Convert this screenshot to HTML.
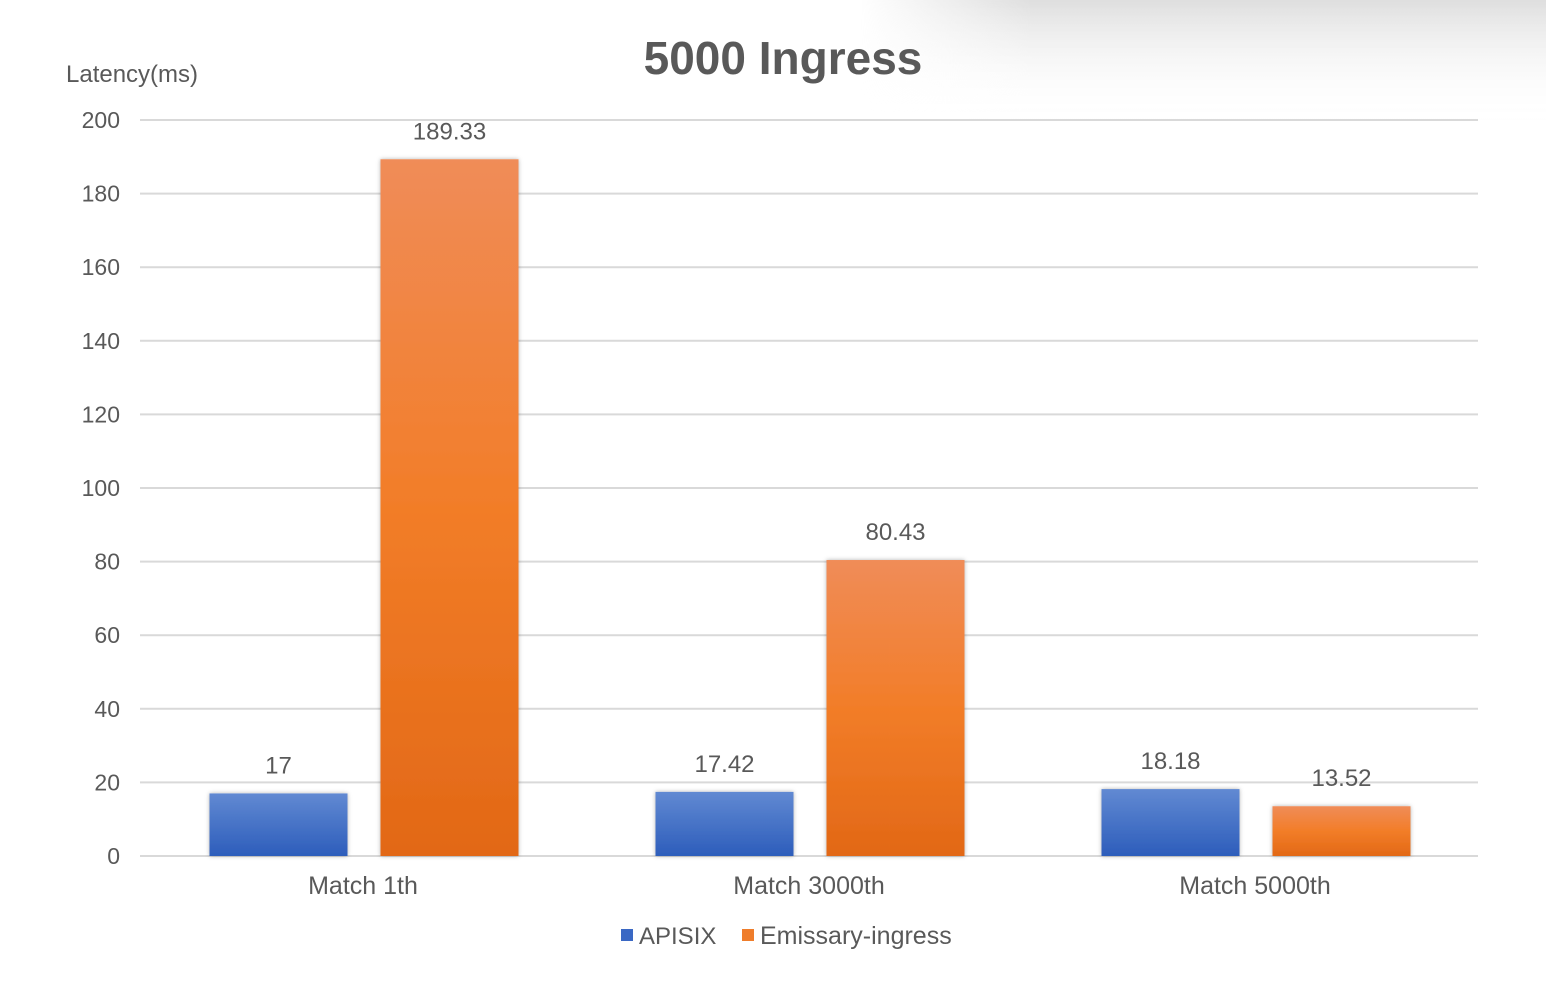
<!DOCTYPE html>
<html><head><meta charset="utf-8"><style>
html,body{margin:0;padding:0;background:#fff}
svg{display:block;font-family:"Liberation Sans","Noto Sans CJK SC",sans-serif}
</style></head><body>
<svg width="1546" height="985" viewBox="0 0 1546 985">
<defs>
<linearGradient id="vshade" x1="0" y1="0" x2="0" y2="1"><stop offset="0" stop-color="#dedede"/><stop offset="1" stop-color="#fff" stop-opacity="0"/></linearGradient>
<linearGradient id="hmask" x1="0" y1="0" x2="1" y2="0"><stop offset="0" stop-color="#000"/><stop offset="0.25" stop-color="#fff"/><stop offset="1" stop-color="#fff"/></linearGradient>
<mask id="m"><rect x="860" y="0" width="686" height="120" fill="url(#hmask)"/></mask>
<linearGradient id="gBlue" x1="0" y1="0" x2="0" y2="1"><stop offset="0" stop-color="#6189d2"/><stop offset="1" stop-color="#2d5dbb"/></linearGradient>
<linearGradient id="gOrange" x1="0" y1="0" x2="0" y2="1"><stop offset="0" stop-color="#f08c58"/><stop offset="0.5" stop-color="#f27d28"/><stop offset="1" stop-color="#e26816"/></linearGradient>
<filter id="sh" x="-10%" y="-10%" width="120%" height="120%"><feDropShadow dx="0" dy="0" stdDeviation="2" flood-color="#000" flood-opacity="0.3"/></filter>
</defs>
<rect x="860" y="0" width="686" height="120" fill="url(#vshade)" mask="url(#m)"/>
<text x="783" y="74" text-anchor="middle" font-size="46" font-weight="bold" fill="#595959">5000 Ingress</text>
<text x="66" y="82" font-size="24" fill="#595959">Latency(ms)</text>
<g id="grid"></g>
<g id="bars"></g>
<g>
<rect x="621" y="929" width="12" height="12" fill="#3a68c4"/>
<text x="639" y="944" font-size="24" fill="#595959">APISIX</text>
<rect x="742" y="929" width="12" height="12" fill="#ef7d2b"/>
<text x="760" y="944" font-size="25" fill="#595959">Emissary-ingress</text>
</g>
</svg>
<script>
const categories=["Match 1th","Match 3000th","Match 5000th"];
const apisix=[17,17.42,18.18];
const emissary=[189.33,80.43,13.52];
const apisixLabels=["17","17.42","18.18"];
const emissaryLabels=["189.33","80.43","13.52"];
const yTicks=[0,20,40,60,80,100,120,140,160,180,200];
const NS="http://www.w3.org/2000/svg";
const y0=856,yTop=120,xL=140,xR=1478;
const y=v=>y0-(v/200)*(y0-yTop);
const groupW=(xR-xL)/categories.length;
const cx=i=>xL+groupW*(i+0.5);
function mk(tag,attrs,parent){const e=document.createElementNS(NS,tag);for(const k in attrs)e.setAttribute(k,attrs[k]);parent.appendChild(e);return e;}
const grid=document.getElementById('grid');
yTicks.forEach(t=>{
  const l=mk('line',{x1:xL,x2:xR,y1:y(t),y2:y(t),stroke:'#d9d9d9','stroke-width':2},grid);
  
  
  const tx=mk('text',{x:120,y:y(t)+8,'text-anchor':'end','font-size':23,fill:'#595959'},grid);
  tx.textContent=t;
  
  
});
const bars=document.getElementById('bars');
const bw=138,gap=33;
categories.forEach((c,i)=>{
  const series=[[apisix[i],apisixLabels[i],'url(#gBlue)','apisix'],[emissary[i],emissaryLabels[i],'url(#gOrange)','emissary']];
  series.forEach((s,j)=>{
    const x=cx(i)-gap/2-bw+j*(bw+gap)+1;
    const r=mk('rect',{x:x,y:y(s[0]),width:bw,height:y0-y(s[0]),fill:s[2],filter:'url(#sh)'},bars);
    
    
    const t=mk('text',{x:x+bw/2,y:y(s[0])-20,'text-anchor':'middle','font-size':24,fill:'#595959'},bars);
    t.textContent=s[1];
    
    
  });
  const t=mk('text',{x:cx(i),y:894,'text-anchor':'middle','font-size':25,fill:'#595959'},bars);
  t.textContent=c;
  
  
});
</script>
</body></html>
